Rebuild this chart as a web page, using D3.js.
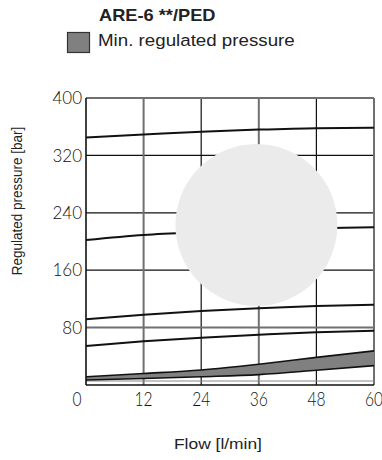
<!DOCTYPE html>
<html>
<head>
<meta charset="utf-8">
<script src="https://cdn.jsdelivr.net/npm/d3@7"></script>
<style>
  html, body { margin: 0; padding: 0; background: #fff; }
  svg { display: block; }
  .tick-y { font-family: "Lato", sans-serif; font-weight: 300; font-size: 17px; fill: #111; }
  .tick-x { font-family: "Lato", sans-serif; font-weight: 300; font-size: 19px; fill: #111; }
  .label { font-family: "Liberation Sans", Arial, sans-serif; fill: #222; }
</style>
</head>
<body>
<svg id="chart" width="382" height="460"></svg>
<script>
// Flow values (l/min) where the curves are sampled
const flow = [0, 12, 24, 36, 48, 60];

// Regulated-pressure curves (bar), one per spring setting
const curveA = [345, 349, 353, 356, 358, 358.5];
const curveB = [202, 209, 213, 216, 218.5, 220];
const curveC = [91.5, 98, 103, 107, 110, 112];
const curveD = [54.5, 61, 66, 70, 73.5, 75.5];

// Min. regulated pressure band (bar)
const minUpper = [11.5, 16, 21, 29, 38.5, 47.5];
const minLower = [7, 9, 11.5, 14.5, 20.5, 27];

// Axis ticks
const xTicks = [0, 12, 24, 36, 48, 60];
const yTicks = [80, 160, 240, 320, 400];
const yTickLabels = ["80", "160", "240", "320", "400"];

const svg = d3.select("#chart");
const plotLeft = 86, plotRight = 374, plotTop = 98, plotBottom = 385;

const x = d3.scaleLinear().domain([0, 60]).range([plotLeft, plotRight]);
const y = d3.scaleLinear().domain([0, 400]).range([plotBottom, plotTop]);

// Grid: alternating grey and black rules
const greyX = [12, 36, 60], blackX = [24, 48];
const greyY = [80, 400], blackY = [160, 240, 320];

const grid = svg.append("g");
grid.selectAll(".gx").data(blackX).join("line")
  .attr("x1", d => x(d)).attr("x2", d => x(d)).attr("y1", y(400)).attr("y2", y(0))
  .attr("stroke", "#111").attr("stroke-width", 1.2);
grid.selectAll(".gy").data(blackY).join("line")
  .attr("x1", x(0)).attr("x2", x(60)).attr("y1", d => y(d)).attr("y2", d => y(d))
  .attr("stroke", "#111").attr("stroke-width", 1.2);
grid.selectAll(".hx").data(greyX).join("line")
  .attr("x1", d => x(d)).attr("x2", d => x(d)).attr("y1", y(400)).attr("y2", y(0))
  .attr("stroke", "#707070").attr("stroke-width", 2);
grid.selectAll(".hy").data(greyY).join("line")
  .attr("x1", x(0)).attr("x2", x(60)).attr("y1", d => y(d)).attr("y2", d => y(d))
  .attr("stroke", "#707070").attr("stroke-width", 2);
// thin rule just above the flow axis
grid.append("line")
  .attr("x1", x(0)).attr("x2", x(60)).attr("y1", y(0) - 4).attr("y2", y(0) - 4)
  .attr("stroke", "#8a8a8a").attr("stroke-width", 1.2);

// Min. regulated pressure band
const band = flow.map((f, i) => ({ f, lo: minLower[i], hi: minUpper[i] }));
svg.append("path").datum(band)
  .attr("d", d3.area().x(d => x(d.f)).y0(d => y(d.lo)).y1(d => y(d.hi)).curve(d3.curveMonotoneX))
  .attr("fill", "#808080");
[minUpper, minLower].forEach(s => {
  svg.append("path").datum(flow.map((f, i) => [f, s[i]]))
    .attr("d", d3.line().x(d => x(d[0])).y(d => y(d[1])).curve(d3.curveMonotoneX))
    .attr("fill", "none").attr("stroke", "#111").attr("stroke-width", 1.6);
});

// Pressure curves
[curveA, curveB, curveC, curveD].forEach(s => {
  svg.append("path").datum(flow.map((f, i) => [f, s[i]]))
    .attr("d", d3.line().x(d => x(d[0])).y(d => y(d[1])).curve(d3.curveMonotoneX))
    .attr("fill", "none").attr("stroke", "#111").attr("stroke-width", 2);
});

// Axis frame (left and bottom)
svg.append("line").attr("x1", x(0)).attr("x2", x(0)).attr("y1", y(400)).attr("y2", y(0))
  .attr("stroke", "#111").attr("stroke-width", 1.6);
svg.append("line").attr("x1", x(0)).attr("x2", x(60)).attr("y1", y(0)).attr("y2", y(0))
  .attr("stroke", "#111").attr("stroke-width", 1.6);

// Light disc over the chart area
svg.append("circle")
  .attr("cx", x(35.5)).attr("cy", y(223)).attr("r", 81)
  .attr("fill", "#ebebeb");

// Tick labels
svg.selectAll(".ty").data(yTicks).join("text")
  .attr("class", "tick-y")
  .attr("x", plotLeft - 4).attr("y", d => y(d)).attr("dy", "0.36em")
  .attr("text-anchor", "end")
  .text((d, i) => yTickLabels[i]);
svg.selectAll(".tx").data(xTicks).join("text")
  .attr("class", "tick-x")
  .attr("transform", d => `translate(${x(d) - (d === 0 ? 9 : 0)},406) scale(0.82,1)`)
  .attr("text-anchor", "middle")
  .text(d => d);

// Axis titles (text is set slightly wide)
svg.append("text").attr("class", "label")
  .attr("transform", "translate(22,201) scale(1.15,1) rotate(-90)")
  .attr("text-anchor", "middle").attr("font-size", 13.5)
  .text("Regulated pressure [bar]");
svg.append("text").attr("class", "label")
  .attr("transform", "translate(174,449) scale(1.16,1)")
  .attr("font-size", 15)
  .text("Flow [l/min]");

// Title and legend
svg.append("text").attr("class", "label")
  .attr("transform", "translate(99,21) scale(1.14,1)")
  .attr("font-size", 16).attr("font-weight", "bold").attr("fill", "#111")
  .text("ARE-6 **/PED");
svg.append("rect").attr("x", 67.5).attr("y", 32.5).attr("width", 22).attr("height", 20)
  .attr("fill", "#808080").attr("stroke", "#333").attr("stroke-width", 1.2);
svg.append("text").attr("class", "label")
  .attr("transform", "translate(98,45.5) scale(1.15,1)")
  .attr("font-size", 16.3)
  .text("Min. regulated pressure");
</script>
</body>
</html>
